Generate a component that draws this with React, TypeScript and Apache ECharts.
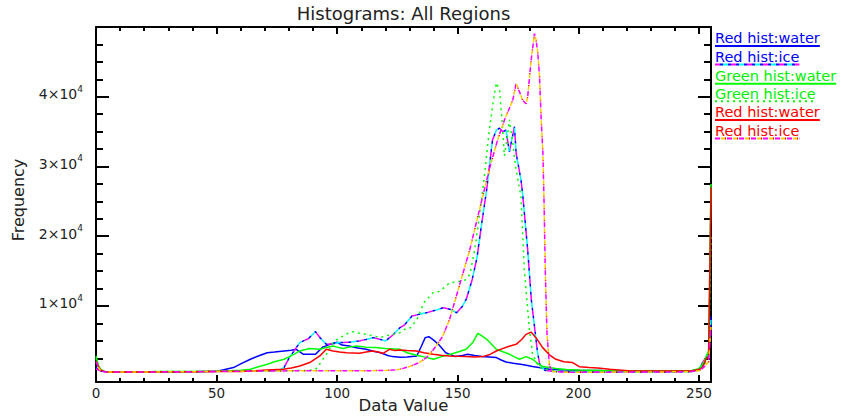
import React, { useEffect, useRef } from "react";
import * as echarts from "echarts";

// ---------- data ----------
const X_MAJOR = [0, 50, 100, 150, 200, 250];
const X_MINOR = [10, 20, 30, 40, 60, 70, 80, 90, 110, 120, 130, 140, 160, 170, 180, 190, 210, 220, 230, 240];
const Y_MAJOR = [10000, 20000, 30000, 40000];
const Y_MINOR = [2500, 5000, 7500, 12500, 15000, 17500, 22500, 25000, 27500, 32500, 35000, 37500, 42500, 45000, 47500];

const LEGEND_LABELS = ["Red hist:water", "Red hist:ice", "Green hist:water", "Green hist:ice", "Red hist:water", "Red hist:ice"];

const blueWater: [number, number][] = [
  [0, 1200], [1, 900], [2, 700], [4, 550], [8, 520], [15, 540], [25, 560], [35, 580], [45, 600], [50, 650],
  [53, 850], [57, 1170], [60, 1700], [64, 2360], [67, 2800], [71, 3300], [74, 3400], [78, 3550], [81, 3650],
  [83, 3790], [85, 3300], [86, 3070], [91, 3070], [94, 4100], [97, 4500], [100, 4800], [102, 4400], [105, 4260],
  [108, 4000], [112, 3790], [115, 3500], [118, 3300], [121, 2900], [123, 2740], [126, 2650], [129, 2700],
  [133, 2830], [135, 4300], [136.5, 5460], [138, 5600], [140, 5100], [142, 4500], [145, 3300], [149, 2740],
  [152, 2900], [154, 3070], [157, 2900], [160, 2740], [163, 2700], [166, 2600], [168, 2250], [170, 1970],
  [173, 1800], [176, 1640], [179, 1450], [181, 1310], [185, 1100], [188, 930], [192, 870], [195, 830],
  [200, 780], [210, 740], [220, 720], [230, 700], [240, 700], [247, 720], [250, 900], [252, 1700], [253, 2600],
  [254, 3000], [255, 8500],
];

const blueIce: [number, number][] = [
  [0, 1000], [2, 700], [4, 550], [10, 520], [20, 540], [30, 560], [40, 580], [50, 620], [60, 650], [70, 700],
  [76, 800], [78, 1200], [80, 2500], [82, 3500], [84.5, 4750], [88, 5300], [91, 6320], [93, 5400], [95.5, 4500],
  [98, 4600], [101, 4750], [105, 4800], [109, 4980], [112, 5200], [115, 5460], [118, 5200], [120, 4980],
  [123, 5800], [126, 6890], [128, 7300], [131, 8550], [134, 8800], [137, 9030], [141, 9400], [144, 9750],
  [147, 9500], [149.5, 9030], [152, 10000], [153.5, 10940], [156, 13800], [158, 17000], [160, 22000],
  [162, 26700], [164.4, 33800], [166, 35200], [167.3, 35500], [168.6, 35000], [170, 35200], [171.4, 32100],
  [173.5, 35700], [174.2, 31900], [176.2, 28100], [177, 25700], [179, 18000], [180.5, 10900], [182, 6500],
  [183, 3500], [184, 1600], [186, 800], [190, 600], [200, 550], [210, 520], [220, 520], [230, 520], [240, 540],
  [247, 600], [250, 900], [252, 2200], [254, 3000], [255, 8000],
];

const greenWater: [number, number][] = [
  [0, 2830], [1, 1500], [2, 900], [4, 560], [10, 560], [20, 580], [30, 600], [40, 620], [50, 640], [56, 700],
  [60, 800], [64, 930], [67, 1250], [71, 1640], [74, 2000], [78, 2360], [80, 2700], [82, 3070], [84.5, 3550],
  [88.6, 3890], [92.8, 3790], [95, 4000], [98.3, 4260], [100, 4100], [102.4, 3890], [105, 4100], [108, 4260],
  [112, 4100], [116, 4030], [120, 3900], [126, 3790], [129, 3300], [133, 2930], [136, 2700], [140, 2360],
  [143, 2700], [147, 3070], [150, 3400], [153.5, 3790], [156.2, 4750], [158.3, 6070], [160, 5700], [162, 5220],
  [164, 4500], [166, 3790], [169, 3400], [171.5, 3070], [173.5, 2700], [175.6, 2360], [178.3, 2740], [181, 2360],
  [183, 1800], [185.2, 1310], [190.7, 1030], [195, 900], [200, 820], [210, 760], [220, 720], [230, 700],
  [240, 700], [247, 750], [250, 1000], [252, 1900], [253, 2800], [254, 3500], [255, 27500],
];

const greenIce: [number, number][] = [
  [0, 2500], [1, 1400], [2, 800], [4, 560], [10, 560], [20, 580], [30, 600], [40, 620], [50, 650], [60, 680],
  [70, 700], [80, 720], [88, 750], [91, 900], [93, 1800], [95.5, 3070], [98.3, 4750], [100, 5200], [102.4, 5690],
  [104.5, 6100], [106.5, 6320], [109, 6100], [112, 5930], [115, 5700], [117.6, 5460], [120, 5700], [123, 5930],
  [126, 6170], [128, 6650], [130, 6750], [133, 8000], [136, 10500], [139.7, 11890], [142.5, 12100],
  [146.6, 13300], [150.7, 13550], [153, 13700], [155, 14500], [157, 18000], [159, 23000], [161, 28500],
  [163, 35000], [165, 40000], [166, 42000], [167.3, 40950], [168.5, 36000], [169.3, 31500], [170.5, 34000],
  [171.4, 36700], [172.8, 33300], [174.2, 29500], [176.2, 25700], [177.6, 15200], [179.7, 6650], [181, 3070],
  [183.8, 1200], [188, 800], [195, 650], [205, 600], [220, 580], [235, 580], [247, 600], [250, 800], [252, 1500],
  [254, 2500], [255, 20500],
];

const redWater: [number, number][] = [
  [0, 2100], [1, 1300], [2, 800], [4, 550], [10, 520], [20, 540], [30, 560], [40, 580], [50, 600], [60, 620],
  [66, 700], [70.7, 830], [77.6, 930], [81, 1100], [84.5, 1400], [88.6, 1890], [92.8, 2830], [95.5, 3790],
  [98.3, 3550], [101, 3400], [103.8, 3300], [109.3, 3220], [112, 3400], [114.8, 3550], [117, 3400], [119, 3220],
  [121.7, 3790], [124, 3600], [126, 3690], [129, 3600], [132.8, 3550], [136, 3300], [139.7, 3070], [143, 2950],
  [146.6, 2830], [150, 2780], [153.5, 2740], [157, 2700], [160.4, 2740], [163, 3000], [166, 3550], [168.6, 3890],
  [171, 4200], [174.2, 4500], [176.5, 5200], [178.3, 5930], [180.4, 6260], [182.4, 5460], [185.2, 4030],
  [188, 3000], [190.7, 2360], [194, 2000], [197.6, 1890], [200.4, 1300], [204.5, 1170], [208, 1100], [213, 930],
  [218, 800], [222, 690], [230, 690], [240, 690], [247, 690], [250, 900], [251.5, 1170], [252.9, 2360],
  [254, 2800], [255, 27000],
];

const redIce: [number, number][] = [
  [0, 2000], [1, 1200], [2, 700], [4, 520], [10, 520], [20, 540], [30, 560], [40, 580], [50, 620], [60, 650],
  [70, 680], [80, 700], [90, 720], [100, 720], [110, 700], [120, 750], [124, 850], [126, 930], [130, 1310],
  [134, 1890], [137, 2600], [139.5, 3550], [141.5, 4500], [143.8, 5690], [146.6, 8080], [149.4, 11400],
  [151.4, 13800], [155, 18100], [159, 23800], [163, 29500], [166.5, 33800], [169.4, 36700], [172.8, 39500],
  [174.2, 41900], [175.6, 40700], [176.9, 39500], [178.3, 39000], [179, 40000], [180.4, 45200], [181.8, 49050],
  [182.5, 48100], [183.2, 46200], [183.9, 42900], [184.6, 36700], [185.3, 31900], [185.7, 26200], [186.3, 15000],
  [187, 6000], [188, 1500], [189, 600], [195, 500], [205, 500], [215, 520], [230, 540], [245, 560], [250, 700],
  [252, 1200], [254, 2000], [255, 7000],
];

// ---------- styles ----------
const FONT = "DejaVu Sans";
const TXT = "#222";
type Stroke = { color: string; dash?: number[]; off?: number };
const STYLES: Stroke[][] = [
  [{ color: "#0000ff" }],
  [
    { color: "#ff00ff", dash: [5, 11], off: 0 },
    { color: "#0000ff", dash: [3, 5], off: -5 },
    { color: "#00ffff", dash: [5, 11], off: -8 },
  ],
  [{ color: "#00ff00" }],
  [{ color: "#00ff00", dash: [2, 4], off: 0 }],
  [{ color: "#ff0000" }],
  [
    { color: "#ff00ff", dash: [5, 7], off: 0 },
    { color: "#ffcc00", dash: [4, 8], off: -6 },
    { color: "#ff0000", dash: [1, 11], off: -10.5 },
  ],
];
const TEXT_COLORS = ["#0000ff", "#0000ff", "#00f000", "#00f000", "#ff0000", "#ff0000"];
const SERIES_DATA = [blueWater, blueIce, greenWater, greenIce, redWater, redIce];

export default function App() {
  const ref = useRef<HTMLDivElement>(null);
  useEffect(() => {
    document.body.style.margin = "0";
    const chart = echarts.init(ref.current!, null, { renderer: "svg" });

    const X_MIN = 0, X_MAX = 255, Y_MIN = -900, Y_MAX = 50000;
    const line = { color: "#000", width: 2 };

    const xAxis = (pos: string, ticks: number[], len: number, showLine: boolean, showLabel: boolean) => ({
      type: "value",
      min: X_MIN,
      max: X_MAX,
      position: pos,
      axisLine: { show: showLine, onZero: false, lineStyle: line },
      axisTick: { show: true, inside: true, length: len, customValues: ticks, lineStyle: { color: "#000", width: 2 } },
      axisLabel: showLabel
        ? { show: true, customValues: X_MAJOR, color: TXT, fontFamily: FONT, fontSize: 13.5, margin: 4 }
        : { show: false },
      splitLine: { show: false },
      minorTick: { show: false },
    });
    const yAxis = (pos: string, ticks: number[], len: number, showLine: boolean, showLabel: boolean) => ({
      type: "value",
      min: Y_MIN,
      max: Y_MAX,
      position: pos,
      axisLine: { show: showLine, onZero: false, lineStyle: line },
      axisTick: { show: true, inside: true, length: len, customValues: ticks, lineStyle: { color: "#000", width: 2 } },
      axisLabel: showLabel
        ? {
            show: true,
            customValues: Y_MAJOR,
            margin: 13,
            formatter: (v: number) => `{b|${Math.round(v / 10000)}×10}{s|4}`,
            rich: {
              b: { fontFamily: FONT, fontSize: 14, color: TXT, padding: [0, 0, 5, 0] },
              s: { fontFamily: FONT, fontSize: 9, color: TXT, padding: [0, 0, 16, 0] },
            },
          }
        : { show: false },
      splitLine: { show: false },
    });

    const series: any[] = [];
    SERIES_DATA.forEach((data, i) => {
      STYLES[i].forEach((s) => {
        series.push({
          type: "line",
          name: LEGEND_LABELS[i],
          data,
          xAxisIndex: 0,
          yAxisIndex: 0,
          symbol: "none",
          showSymbol: false,
          silent: true,
          lineStyle: {
            color: s.color,
            width: 1.5,
            type: s.dash ? s.dash : "solid",
            dashOffset: s.off || 0,
          },
        });
      });
    });

    // legend (text + underline in the series' line style)
    const LEG_FS = 14.5;
    const canvas = document.createElement("canvas");
    const ctx = canvas.getContext("2d")!;
    ctx.font = `${LEG_FS}px "${FONT}"`;
    const LEG_X = 715;
    const baselines = [43.3, 61.7, 81, 98.5, 117.3, 135.7];
    const graphics: any[] = [
      {
        type: "text",
        x: 403.5,
        y: 13,
        style: { text: "Histograms: All Regions", fontFamily: FONT, fontSize: 18, fill: TXT, align: "center", verticalAlign: "middle" },
      },
      {
        type: "text",
        x: 403.5,
        y: 405,
        style: { text: "Data Value", fontFamily: FONT, fontSize: 16.5, fill: TXT, align: "center", verticalAlign: "middle" },
      },
      {
        type: "text",
        x: 18,
        y: 200,
        rotation: Math.PI / 2,
        style: { text: "Frequency", fontFamily: FONT, fontSize: 16, fill: TXT, align: "center", verticalAlign: "middle" },
      },
    ];
    LEGEND_LABELS.forEach((label, i) => {
      const w = ctx.measureText(label).width;
      graphics.push({
        type: "text",
        x: LEG_X,
        y: baselines[i] - 5,
        style: { text: label, fontFamily: FONT, fontSize: LEG_FS, fill: TEXT_COLORS[i], align: "left", verticalAlign: "middle" },
      });
      STYLES[i].forEach((s) => {
        graphics.push({
          type: "line",
          shape: { x1: LEG_X, y1: baselines[i] + 2.8, x2: LEG_X + w, y2: baselines[i] + 2.8 },
          style: { stroke: s.color, lineWidth: 2, lineDash: s.dash || null, lineDashOffset: s.off || 0 },
        });
      });
    });

    chart.setOption({
      animation: false,
      backgroundColor: "#fff",
      grid: { left: 96, right: 130, top: 27, bottom: 34, containLabel: false, outerBoundsMode: "none" },
      xAxis: [
        xAxis("bottom", X_MAJOR, 7, true, true),
        xAxis("bottom", X_MINOR, 4, false, false),
        xAxis("top", X_MAJOR, 7, true, false),
        xAxis("top", X_MINOR, 4, false, false),
      ],
      yAxis: [
        yAxis("left", Y_MAJOR, 13, true, true),
        yAxis("left", Y_MINOR, 7, false, false),
        yAxis("right", Y_MAJOR, 13, true, false),
        yAxis("right", Y_MINOR, 7, false, false),
      ],
      series,
      graphic: graphics,
    });
    return () => chart.dispose();
  }, []);
  return (
    <div
      ref={ref}
      style={{ position: "absolute", left: 0, top: 0, width: 841, height: 416, background: "#fff" }}
    />
  );
}
